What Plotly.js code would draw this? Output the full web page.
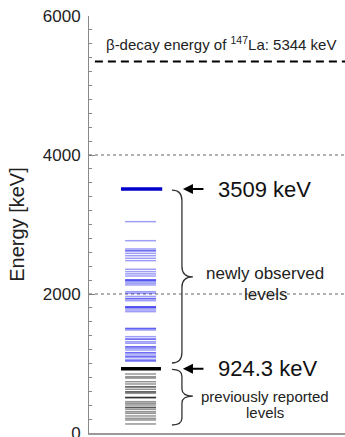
<!DOCTYPE html>
<html><head><meta charset="utf-8">
<script src="https://cdn.plot.ly/plotly-3.0.1.min.js"></script>
<style>html,body{margin:0;padding:0;overflow:hidden;background:#fff}#c{width:345px;height:437px}</style>
</head><body><div id="c"></div>
<script>
// ---- data (keV) ----
const qBeta = 5344;                 // beta-decay energy of 147La
const topNewLevel = 3509;           // highest newly observed level
const topPrevLevel = 924.3;         // highest previously reported level
const newLevels = [3041, 2767, 2648, 2624, 2620, 2585, 2551, 2514, 2480,
  2356, 2322, 2290, 2259, 2205, 2200, 2196, 2177, 2154, 2130,
  2033, 2010, 1965, 1935, 1930, 1904,
  1817, 1813, 1809, 1794, 1770, 1746,
  1507, 1500, 1482,
  1386, 1353, 1349, 1314, 1291, 1242, 1238, 1218, 1194, 1156, 1152,
  1122, 1098, 1094, 1060, 1040, 1036];
const prevLevels = [849, 810, 790, 738, 705, 666, 662, 629, 594, 590, 571,
  512, 510, 508, 451, 427, 403, 370, 366, 341, 307, 283, 245, 211, 187, 130];
const yTicks = [0, 2000, 4000, 6000];
const gridValues = [2000, 4000];

// ---- drawing ----
const FONT = 'Liberation Sans, Arial, sans-serif';
const shapes = [];
gridValues.forEach(v => shapes.push({type:'line', xref:'paper', yref:'y', x0:0, x1:1, y0:v, y1:v,
  line:{color:'#666', width:1, dash:'dot'}}));
newLevels.forEach(e => shapes.push({type:'line', xref:'x', yref:'y', x0:0.141, x1:0.262, y0:e, y1:e,
  line:{color:'rgba(0,0,235,0.38)', width:1.5}}));
prevLevels.forEach(e => shapes.push({type:'line', xref:'x', yref:'y', x0:0.141, x1:0.262, y0:e, y1:e,
  line:{color:'rgba(0,0,0,0.42)', width:1.5}}));
shapes.push({type:'line', xref:'x', yref:'y', x0:0.125, x1:0.286, y0:topNewLevel, y1:topNewLevel,
  line:{color:'#0000cc', width:3.5}});
shapes.push({type:'line', xref:'x', yref:'y', x0:0.125, x1:0.281, y0:topPrevLevel, y1:topPrevLevel,
  line:{color:'#000', width:3.5}});
shapes.push({type:'line', xref:'x', yref:'y', x0:0.023, x1:1, y0:qBeta, y1:qBeta,
  line:{color:'#000', width:2, dash:'8px,5px'}});

function brace(y1, y2, ym, xl, xs, xt, r) {
  return `M${xl},${y1} Q${xs},${y1} ${xs},${y1-r} L${xs},${ym+r} Q${xs},${ym} ${xt},${ym} ` +
         `Q${xs},${ym} ${xs},${ym-r} L${xs},${y2+r} Q${xs},${y2} ${xl},${y2}`;
}
shapes.push({type:'path', xref:'x', yref:'y', path: brace(topNewLevel-15, 1007, 2245, 0.324, 0.363, 0.406, 150),
  line:{color:'#333', width:1.3}});
shapes.push({type:'path', xref:'x', yref:'y', path: brace(topPrevLevel-10, 115, 532, 0.324, 0.363, 0.406, 100),
  line:{color:'#333', width:1.3}});

const annotations = [
  {x:0.514, y:5598, xref:'x', yref:'y', text:'β-decay energy of <sup>147</sup>La: ' + qBeta + ' keV',
   showarrow:false, font:{family:FONT, size:15, color:'#222'}},
  {x:0.367, y:topNewLevel, xref:'x', yref:'y', text:'', showarrow:true, ax:22, ay:0,
   arrowhead:2, arrowsize:1, arrowwidth:2, arrowcolor:'#000'},
  {x:0.367, y:topPrevLevel, xref:'x', yref:'y', text:'', showarrow:true, ax:22, ay:0,
   arrowhead:2, arrowsize:1, arrowwidth:2, arrowcolor:'#000'},
  {x:0.496, y:topNewLevel, xref:'x', yref:'y', xanchor:'left', yanchor:'middle', text:topNewLevel + ' keV',
   showarrow:false, font:{family:FONT, size:22, color:'#111'}},
  {x:0.496, y:topPrevLevel, xref:'x', yref:'y', xanchor:'left', yanchor:'middle', text:topPrevLevel + ' keV',
   showarrow:false, font:{family:FONT, size:22, color:'#111'}},
  {x:0.6875, y:2288, xref:'x', yref:'y', text:'newly observed', showarrow:false,
   font:{family:FONT, size:17, color:'#222'}},
  {x:0.6875, y:1986, xref:'x', yref:'y', text:'levels', showarrow:false,
   font:{family:FONT, size:17, color:'#222'}},
  {x:0.6875, y:532, xref:'x', yref:'y', text:'previously reported', showarrow:false,
   font:{family:FONT, size:15, color:'#222'}},
  {x:0.6875, y:288, xref:'x', yref:'y', text:'levels', showarrow:false,
   font:{family:FONT, size:15, color:'#222'}}
];

const layout = {
  width:345, height:437,
  margin:{l:89, r:0, t:16, b:4, pad:0},
  paper_bgcolor:'#fff', plot_bgcolor:'#fff',
  showlegend:false,
  font:{family:FONT, color:'#222'},
  xaxis:{range:[0,1], showgrid:false, zeroline:false, showticklabels:false, ticks:'',
    showline:true, linecolor:'#999', linewidth:2, fixedrange:true, automargin:false},
  yaxis:{range:[0,6000], tickvals:yTicks, ticktext:yTicks.map(String), ticks:'inside', ticklen:6,
    tickcolor:'#888', tickwidth:1, showgrid:false, zeroline:false, automargin:false,
    ticklabeloverflow:'allow',
    showline:true, linecolor:'#888', linewidth:1, ticklabelstandoff:4,
    tickfont:{family:FONT, size:17, color:'#222'},
    minor:{dtick:200, ticks:'inside', ticklen:3, tickcolor:'#888', tickwidth:1, showgrid:false},
    title:{text:'Energy [keV]', font:{family:FONT, size:20, color:'#222'}, standoff:12}, fixedrange:true},
  shapes, annotations
};
Plotly.newPlot('c', [{x:[0,1], y:[0,0], mode:'none', type:'scatter', hoverinfo:'skip'}], layout,
  {staticPlot:true, displayModeBar:false});
</script></body></html>
